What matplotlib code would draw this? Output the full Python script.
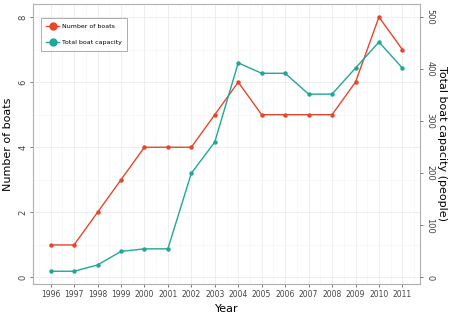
import matplotlib
matplotlib.use("Agg")
import matplotlib.pyplot as plt
from matplotlib.ticker import MultipleLocator
from matplotlib.lines import Line2D

years = [1996, 1997, 1998, 1999, 2000, 2001, 2002, 2003,
         2004, 2005, 2006, 2007, 2008, 2009, 2010, 2011]
boats = [1, 1, 2, 3, 4, 4, 4, 5, 6, 5, 5, 5, 5, 6, 8, 7]
capacity = [12, 12, 24, 50, 55, 55, 200, 260, 412, 392, 392, 352, 352, 402, 452, 402]

red = '#e4472c'
teal = '#22a699'
scale = 62.5  # capacity per boat on the secondary axis

fig = plt.figure(figsize=(4.5, 3.18), dpi=100)
ax = fig.add_axes([33/450, 1 - 284/318, 387/450, 280/318])

ax.plot(years, boats, color=red, lw=1.0, marker='o', ms=2.2, zorder=3)
ax.plot(years, [c / scale for c in capacity], color=teal, lw=1.0,
        marker='o', ms=2.2, zorder=3)

ax.set_xlim(1995.25, 2011.75)
ax.set_ylim(-0.2, 8.4)
ax.set_xticks(years)
ax.set_xticklabels([str(y) for y in years], fontsize=5.5, color='#444444')
ax.set_yticks([0, 2, 4, 6, 8])
ax.set_yticklabels(['0', '2', '4', '6', '8'], fontsize=6, color='#444444',
                   rotation=90, va='center')
ax.xaxis.set_minor_locator(MultipleLocator(0.5))
ax.yaxis.set_minor_locator(MultipleLocator(1))
ax.grid(which='major', color='#ebebeb', lw=0.6)
ax.grid(which='minor', color='#f5f5f5', lw=0.5)
ax.set_axisbelow(True)
ax.tick_params(which='major', length=2, width=0.5, color='#444444', pad=2)
ax.tick_params(which='minor', length=0)
for s in ax.spines.values():
    s.set_color('#b0b0b0')
    s.set_linewidth(0.8)
ax.set_xlabel('Year', fontsize=8, labelpad=4)
ax.set_ylabel('Number of boats', fontsize=8, labelpad=4)

ax2 = ax.twinx()
ax2.set_ylim(-0.2 * scale, 8.4 * scale)
ax2.set_yticks([0, 100, 200, 300, 400, 500])
ax2.set_yticklabels(['0', '100', '200', '300', '400', '500'], fontsize=6,
                    color='#444444', rotation=-90, va='center')
ax2.tick_params(length=2, width=0.5, color='#444444', pad=2)
for s in ax2.spines.values():
    s.set_visible(False)
ax2.set_ylabel('Total boat capacity (people)', fontsize=8, rotation=-90,
               labelpad=9)

handles = [Line2D([], [], color=red, lw=1.0, marker='o', ms=5),
           Line2D([], [], color=teal, lw=1.0, marker='o', ms=5)]
leg = ax.legend(handles, ['Number of boats', 'Total boat capacity'],
                loc='upper left', bbox_to_anchor=(0.015, 0.955), fontsize=4.5,
                frameon=True, fancybox=False, edgecolor='#888888',
                handlelength=2.0, labelspacing=1.7, borderpad=0.9,
                handletextpad=0.5, borderaxespad=0.3)
leg.get_frame().set_linewidth(0.6)

fig.savefig('out.png', dpi=100)
